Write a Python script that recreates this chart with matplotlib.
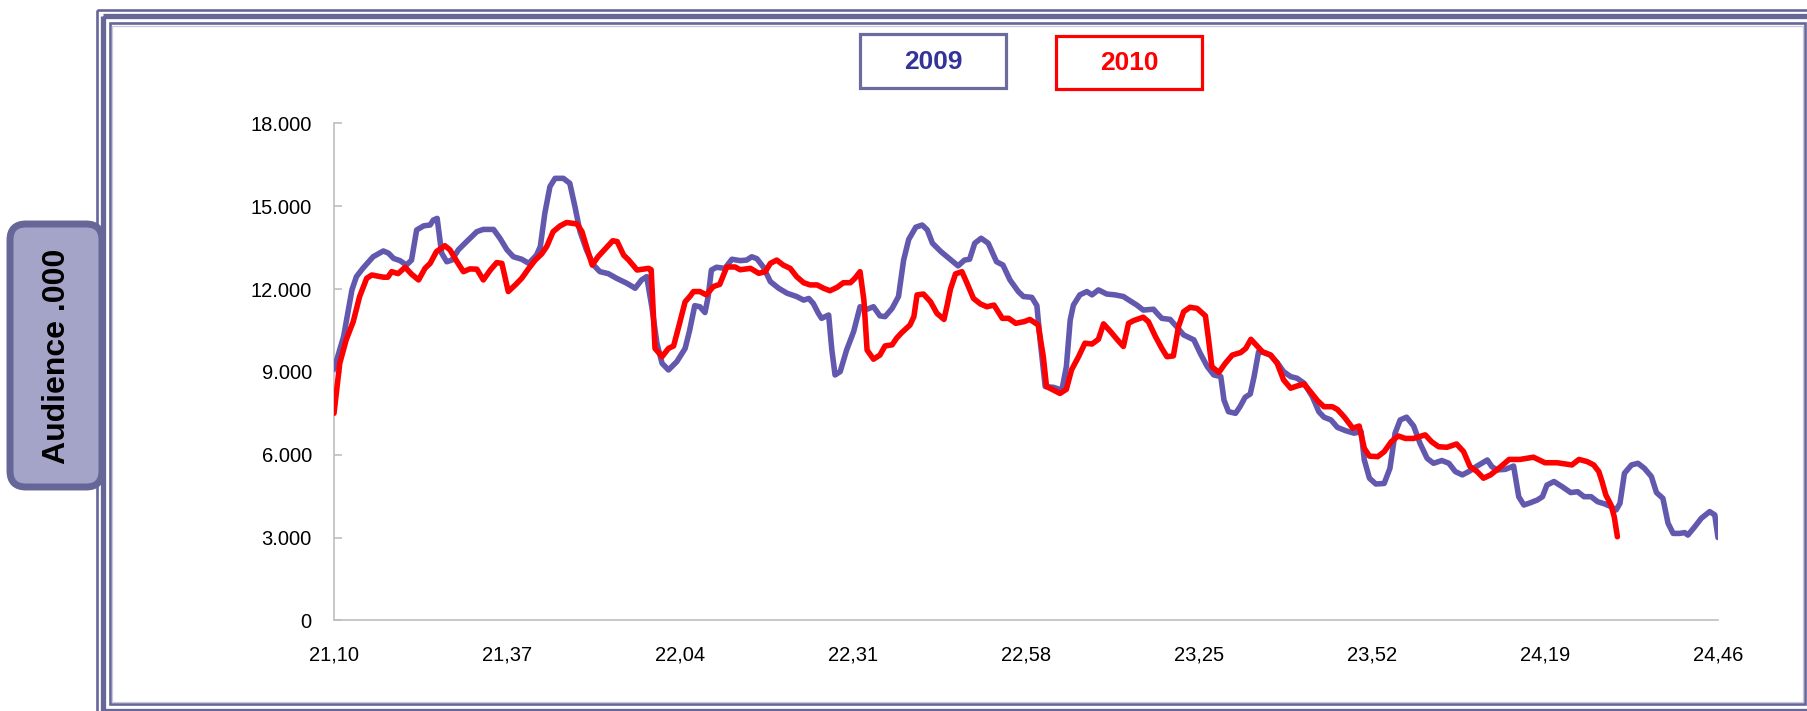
import matplotlib
matplotlib.use("Agg")
import matplotlib.pyplot as plt
from matplotlib.patches import Rectangle, FancyBboxPatch

plt.rcParams['font.family'] = ['Liberation Sans', 'DejaVu Sans']

# ---------------- data (minutes after 21:10, audience in thousands) -------------
t2009 = [0.0, 1.5, 2.8, 3.5, 4.5, 6.1, 7.7, 8.5, 9.3, 10.3, 11.3, 12.1, 12.9, 14.0, 15.0,
         15.5, 16.1, 16.8, 17.6, 18.4, 19.4, 20.7, 22.3, 23.3, 24.9, 25.9, 27.0, 28.0, 29.3,
         30.4, 31.6, 32.2, 32.9, 33.7, 34.5, 35.8, 36.8, 37.6, 38.4, 39.4, 40.5, 41.5, 42.8,
         44.1, 45.7, 47.0, 48.0, 48.8, 49.6, 50.4, 51.2, 52.2, 53.5, 54.8, 55.5, 56.3, 57.1,
         57.9, 58.4, 58.9, 59.7, 61.0, 62.1, 63.4, 64.4, 65.2, 66.0, 67.0, 68.1, 69.4, 70.7,
         72.2, 73.3, 74.1, 74.8, 75.6, 76.1, 77.2, 77.7, 78.2, 79.0, 80.0, 81.1, 82.1, 83.2,
         84.2, 85.2, 86.0, 87.1, 88.1, 88.9, 89.7, 90.8, 91.8, 92.6, 93.4, 94.7, 96.0, 97.4,
         98.4, 99.2, 100.0, 101.0, 102.1, 103.4, 104.4, 105.5, 106.8, 107.6, 108.9, 109.7,
         110.2, 110.6, 111.0, 112.3, 113.6, 114.3, 114.9, 115.4, 116.4, 117.5, 118.3, 119.3,
         120.6, 121.9, 123.2, 124.2, 125.3, 126.3, 127.9, 128.7, 129.2, 130.5, 131.5, 132.6,
         134.2, 135.2, 136.3, 137.3, 138.4, 138.9, 139.6, 140.7, 141.4, 142.2, 143.0, 143.6,
         144.3, 145.1, 146.1, 147.2, 148.2, 149.3, 150.3, 151.4, 152.7, 153.7, 154.5, 155.6,
         156.6, 157.9, 159.2, 160.3, 160.8, 161.6, 162.6, 163.9, 164.8, 165.6, 166.4, 167.4,
         168.5, 169.5, 170.6, 171.6, 172.9, 174.0, 175.0, 176.1, 177.1, 178.4, 180.0, 180.7,
         181.5, 182.8, 184.1, 184.9, 185.7, 186.7, 187.8, 188.6, 189.3, 190.4, 191.7, 193.0,
         194.1, 195.1, 196.2, 197.2, 198.3, 199.3, 200.1, 200.7, 201.4, 202.5, 203.5, 204.5,
         205.6, 206.4, 207.4, 208.2, 209.0, 210.0, 210.8, 211.3, 212.4, 213.4, 214.7, 215.5,
         216.0]
v2009 = [9100, 10280, 11970, 12450, 12750, 13170, 13380, 13300, 13110, 13030, 12870, 13050,
         14140, 14290, 14320, 14500, 14560, 13300, 12990, 13050, 13420, 13720, 14080, 14160,
         14160, 13840, 13420, 13170, 13080, 12930, 13230, 13540, 14740, 15710, 16010, 16010,
         15830, 14990, 14080, 13420, 12870, 12630, 12560, 12390, 12210, 12030, 12330, 12450,
         11360, 10040, 9310, 9070, 9370, 9850, 10500, 11400, 11360, 11150, 11730, 12690,
         12790, 12750, 13080, 13030, 13050, 13170, 13100, 12800, 12270, 12030, 11850, 11730,
         11600, 11660, 11480, 11120, 10940, 11060, 9790, 8890, 9010, 9790, 10460, 11360,
         11270, 11360, 11030, 11000, 11300, 11730, 13050, 13800, 14240, 14320, 14140, 13660,
         13360, 13110, 12840, 13050, 13080, 13660, 13840, 13660, 12990, 12870, 12330, 11910,
         11730, 11700, 11400, 10160, 9300, 8470, 8440, 8340, 9190, 10880, 11420, 11790,
         11910, 11790, 11970, 11820, 11790, 11730, 11580, 11420, 11240, 11270, 11060, 10940,
         10900, 10640, 10340, 10160, 9670, 9190, 8890, 8830, 7980, 7560, 7500, 7740, 8080,
         8200, 8830, 9730, 9700, 9610, 9340, 9010, 8830, 8770, 8590, 8100, 7560, 7360, 7260,
         6990, 6870, 6780, 6840, 5810, 5150, 4940, 4960, 5510, 6780, 7260, 7360, 7040, 6410,
         5870, 5690, 5790, 5690, 5390, 5270, 5390, 5590, 5810, 5570, 5450, 5470, 5590, 4480,
         4180, 4260, 4360, 4480, 4900, 5030, 4840, 4630, 4660, 4480, 4480, 4300, 4220, 4120,
         4000, 4240, 5330, 5630, 5690, 5510, 5210, 4630, 4420, 3520, 3150, 3150, 3180, 3090,
         3400, 3700, 3940, 3820, 3000]

t2010 = [0.0, 0.9, 1.9, 3.0, 4.0, 5.1, 5.9, 7.7, 8.4, 9.0, 10.0, 11.1, 12.1, 13.2, 14.2,
         15.0, 16.0, 17.3, 18.1, 19.2, 20.2, 21.2, 22.3, 23.3, 24.4, 25.4, 26.2, 27.2, 28.3,
         29.3, 30.4, 31.4, 32.4, 33.2, 34.2, 35.3, 36.3, 37.9, 38.7, 39.4, 40.3, 41.2, 42.3,
         43.5, 44.2, 45.2, 46.0, 47.3, 49.1, 49.5, 50.1, 51.2, 52.2, 53.0, 53.8, 54.8, 55.6,
         56.1, 57.1, 58.1, 59.2, 60.2, 61.3, 62.6, 63.4, 65.0, 66.3, 67.3, 68.1, 69.1, 70.1,
         71.2, 72.2, 73.3, 74.3, 75.4, 76.4, 77.4, 78.5, 79.5, 80.6, 81.3, 82.1, 82.7, 83.2,
         84.2, 85.2, 86.0, 87.1, 87.8, 88.6, 89.9, 90.5, 91.0, 92.0, 93.1, 94.1, 95.2, 95.7,
         96.2, 97.0, 98.0, 98.8, 99.8, 100.9, 101.9, 103.0, 104.3, 105.3, 106.4, 107.7, 108.6,
         109.9, 110.7, 111.2, 112.3, 113.3, 114.3, 115.1, 116.2, 117.2, 118.3, 119.3, 120.1,
         121.2, 122.2, 123.2, 124.0, 124.8, 126.3, 127.1, 128.2, 129.2, 130.0, 131.0, 131.8,
         132.6, 133.6, 134.7, 136.0, 136.5, 137.0, 138.1, 139.1, 140.2, 141.5, 142.3, 143.1,
         143.9, 144.9, 146.2, 147.2, 148.2, 149.3, 150.3, 151.4, 152.4, 153.5, 154.5, 155.8,
         156.6, 157.7, 159.0, 160.0, 160.8, 161.6, 162.9, 163.9, 165.0, 166.1, 167.2, 168.5,
         170.3, 171.3, 172.4, 173.7, 175.2, 176.3, 177.3, 178.4, 179.4, 180.5, 181.8, 183.4,
         185.1, 187.2, 189.0, 190.9, 193.2, 194.3, 195.6, 196.6, 197.4, 197.9, 198.5, 199.3,
         199.8, 200.3]
v2010 = [7500, 9310, 10160, 10820, 11730, 12390, 12510, 12430, 12430, 12630, 12560, 12790,
         12540, 12330, 12750, 12930, 13360, 13570, 13420, 12990, 12630, 12730, 12720, 12330,
         12690, 12960, 12930, 11910, 12150, 12390, 12750, 13050, 13270, 13540, 14080, 14290,
         14410, 14360, 14080, 13540, 12870, 13170, 13450, 13750, 13720, 13230, 13050, 12690,
         12750, 12700, 9850, 9550, 9850, 9940, 10640, 11540, 11750, 11910, 11910, 11790,
         12090, 12170, 12800, 12800, 12700, 12750, 12570, 12630, 12930, 13050, 12870, 12750,
         12450, 12230, 12150, 12150, 12030, 11940, 12060, 12230, 12230, 12390, 12630, 11600,
         9790, 9460, 9610, 9940, 9980, 10220, 10420, 10700, 11000, 11790, 11820, 11540, 11120,
         10900, 11420, 11990, 12550, 12630, 12210, 11660, 11460, 11360, 11420, 10940, 10940,
         10760, 10820, 10900, 10700, 9550, 8470, 8340, 8220, 8370, 9070, 9550, 10040, 10010,
         10180, 10740, 10460, 10180, 9920, 10760, 10860, 10980, 10820, 10280, 9850, 9550,
         9580, 10640, 11180, 11340, 11300, 11030, 10160, 9190, 8980, 9310, 9610, 9700, 9850,
         10180, 9980, 9730, 9610, 9310, 8710, 8410, 8490, 8560, 8280, 7960, 7740, 7740, 7640,
         7360, 6960, 7040, 6230, 5950, 5930, 6110, 6470, 6680, 6590, 6590, 6720, 6470, 6290,
         6270, 6390, 6110, 5570, 5390, 5150, 5270, 5510, 5830, 5830, 5910, 5710, 5710, 5630,
         5830, 5750, 5630, 5390, 5030, 4540, 4180, 3760, 3030]

xtick_minutes = [0, 27, 54, 81, 108, 135, 162, 189, 216]
xtick_labels = ["21,10", "21,37", "22,04", "22,31", "22,58", "23,25", "23,52", "24,19", "24,46"]
ytick_values = [0, 3000, 6000, 9000, 12000, 15000, 18000]
ytick_labels = ["0", "3.000", "6.000", "9.000", "12.000", "15.000", "18.000"]
series_names = ["2009", "2010"]
y_title = "Audience .000"

# ---------------- figure ----------------
W, H = 1808, 711
fig = plt.figure(figsize=(W / 100, H / 100), dpi=100)
fig.patch.set_facecolor('white')

FRAME = '#666699'
BLUE_LINE = '#6259AF'

# decoration layer in pixel coordinates
bg = fig.add_axes([0, 0, 1, 1], zorder=0)
bg.set_xlim(0, W)
bg.set_ylim(H, 0)
bg.axis('off')

# triple frame
bg.add_patch(Rectangle((97, 9.5), 1721, 708, fill=False, ec=FRAME, lw=1.9))
bg.add_patch(Rectangle((103.5, 16), 1708.5, 695, fill=False, ec=FRAME, lw=3.8))
bg.add_patch(Rectangle((110, 23), 1695.5, 681, fill=False, ec=FRAME, lw=1.9))
bg.add_patch(Rectangle((112.5, 25.5), 1690.5, 676, fill=False, ec='#C8C8DC', lw=0.9))

# y-title box
bg.add_patch(FancyBboxPatch((10, 224), 92, 263,
                            boxstyle="round,pad=0,rounding_size=16",
                            fc='#A4A4C8', ec=FRAME, lw=5))
bg.text(57, 356, y_title, rotation=90, ha='center', va='center',
        fontsize=23, fontweight='bold', color='black')

# legend boxes
bg.add_patch(Rectangle((860, 34), 146, 54, fc='white', ec='#6B6B9E', lw=2.3))
bg.text(933, 62, series_names[0], ha='center', va='center', fontsize=19,
        fontweight='bold', color='#333399')
bg.add_patch(Rectangle((1056, 36), 146, 53, fc='white', ec='#FF0000', lw=2.3))
bg.text(1129, 63, series_names[1], ha='center', va='center', fontsize=19,
        fontweight='bold', color='#FF0000')

# main chart
ax = fig.add_axes([334 / W, 1 - 620.4 / H, (1718 - 334) / W, (620.4 - 123.4) / H], zorder=2)
ax.set_facecolor('none')
ax.plot(t2009, v2009, color=BLUE_LINE, lw=4.0, solid_joinstyle='round',
        solid_capstyle='round', zorder=3)
ax.plot(t2010, v2010, color='#FF0000', lw=4.0, solid_joinstyle='round',
        solid_capstyle='round', zorder=4)

ax.set_xlim(0, 216)
ax.set_ylim(0, 18000)
ax.set_xticks(xtick_minutes)
ax.set_xticklabels(xtick_labels)
ax.set_yticks(ytick_values)
ax.set_yticklabels(ytick_labels)

for s in ['top', 'right']:
    ax.spines[s].set_visible(False)
for s in ['left', 'bottom']:
    ax.spines[s].set_color('#BFBFBF')
    ax.spines[s].set_linewidth(1.2)

ax.tick_params(axis='y', direction='in', length=6, width=1.2, color='#BFBFBF',
               labelsize=14.5, pad=16, labelcolor='black')
ax.tick_params(axis='x', length=0, labelsize=14.5, pad=18, labelcolor='black')

fig.savefig('out.png', dpi=100, facecolor='white')
